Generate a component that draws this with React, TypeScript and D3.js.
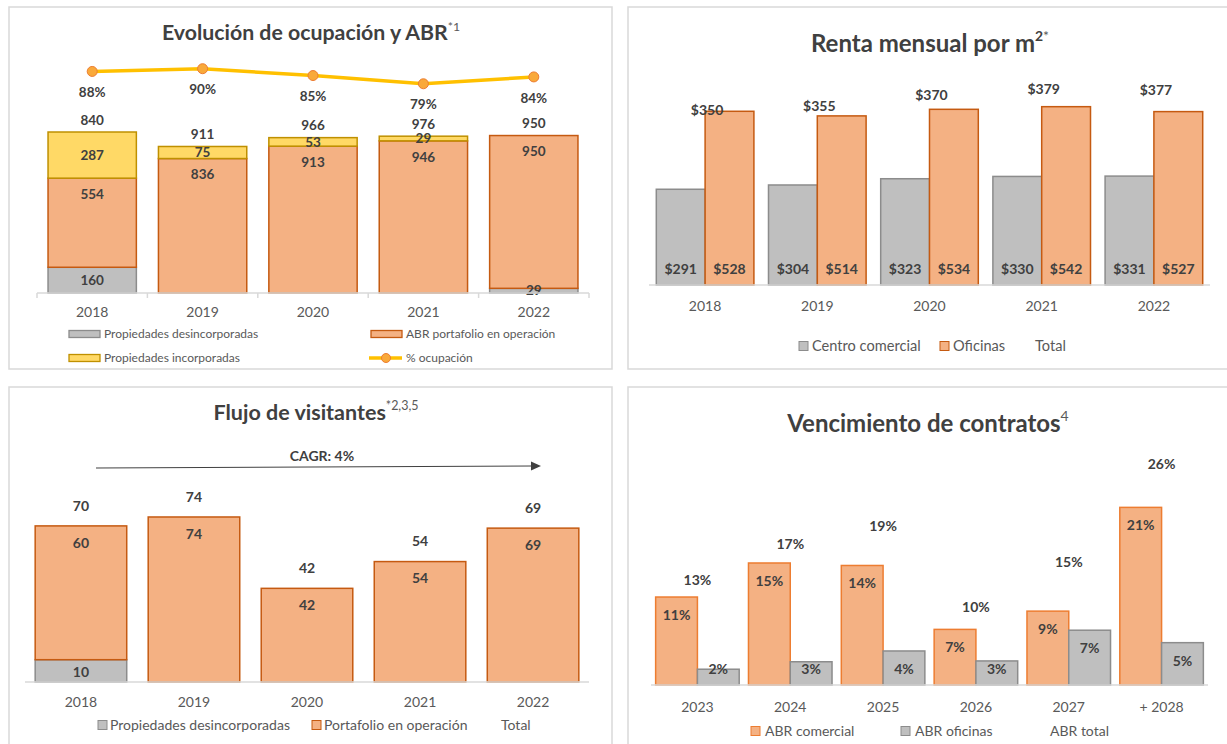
import React, { useEffect, useRef } from 'react';
import * as d3 from 'd3';

// Evolución de ocupación y ABR
const years = ['2018', '2019', '2020', '2021', '2022'];
const abrDesincorporadas = [160, 0, 0, 0, 29];
const abrOperacion = [554, 836, 913, 946, 950];
const abrIncorporadas = [287, 75, 53, 29, 0];
const abrTotal = [840, 911, 966, 976, 950];
const ocupacion = [88, 90, 85, 79, 84];

// Renta mensual por m2
const rentaComercial = [291, 304, 323, 330, 331];
const rentaOficinas = [528, 514, 534, 542, 527];
const rentaTotal = [350, 355, 370, 379, 377];

// Flujo de visitantes
const visitDesincorporadas = [10, 0, 0, 0, 0];
const visitOperacion = [60, 74, 42, 54, 69];
const visitTotal = [70, 74, 42, 54, 69];

// Vencimiento de contratos
const vencYears = ['2023', '2024', '2025', '2026', '2027', '+ 2028'];
const vencComercial = [10.6, 14.7, 14.4, 6.7, 8.9, 21.4];
const vencOficinas = [1.9, 2.8, 4.1, 2.9, 6.6, 5.1];
const vencTotal = [13, 17, 19, 10, 15, 26];

const FONT = 'Lato, "Open Sans", sans-serif';
const DARK = '#404040';
const MID = '#595959';
const GRID = '#D9D9D9';
const ORANGE = '#F4B183';
const ORANGE_LINE = '#C55A11';
const GRAY = '#BFBFBF';
const GRAY_LINE = '#8C8C8C';
const YELLOW = '#FFD966';
const YELLOW_LINE = '#BF9000';

type Sel = d3.Selection<SVGGElement, unknown, null, undefined>;

// title with superscript parts: [text, bold?]
const title = (g: Sel, x: number, y: number, size: number, main: string, sups: [string, boolean][]) => {
  const t = g.append('text')
    .attr('x', x).attr('y', y)
    .attr('text-anchor', 'middle')
    .attr('font-family', FONT)
    .attr('font-size', size)
    .attr('font-weight', 700)
    .attr('fill', DARK)
    .text(main);
  sups.forEach(([s, bold], i) => {
    t.append('tspan')
      .attr('dy', i === 0 ? -size * 0.42 : 0)
      .attr('font-size', size * 0.58)
      .attr('font-weight', bold ? 700 : 400)
      .attr('fill', bold ? DARK : MID)
      .text(s);
  });
};

const label = (g: Sel, x: number, y: number, txt: string, size = 13.5, weight = 700, color = DARK) => {
  g.append('text')
    .attr('x', x).attr('y', y)
    .attr('dy', '0.35em')
    .attr('text-anchor', 'middle')
    .attr('font-family', FONT)
    .attr('font-size', size)
    .attr('font-weight', weight)
    .attr('fill', color)
    .text(txt);
};

const legendText = (g: Sel, x: number, y: number, txt: string, size: number) => {
  g.append('text')
    .attr('x', x).attr('y', y)
    .attr('dy', '0.35em')
    .attr('font-family', FONT)
    .attr('font-size', size)
    .attr('fill', MID)
    .text(txt);
};

const App = () => {
  const ref = useRef<SVGSVGElement>(null);

  useEffect(() => {
    const svg = d3.select(ref.current);
    svg.selectAll('*').remove();

    // panel frames
    const frames = [[9, 7, 603, 362], [628, 7, 610, 362], [9, 387, 603, 370], [628, 387, 610, 370]];
    svg.selectAll('rect.frame')
      .data(frames)
      .enter()
      .append('rect')
      .attr('x', d => d[0]).attr('y', d => d[1])
      .attr('width', d => d[2]).attr('height', d => d[3])
      .attr('fill', '#fff')
      .attr('stroke', GRID)
      .attr('stroke-width', 1.5);

    // ---------- Panel 1: Evolución de ocupación y ABR ----------
    const p1 = svg.append('g') as unknown as Sel;
    title(p1, 311, 39.5, 21.3, 'Evolución de ocupación y ABR', [['*1', false]]);

    const x1 = d3.scaleBand().domain(years).range([37, 589]).paddingInner(0.2).paddingOuter(0.1);
    const y1 = d3.scaleLinear().domain([0, 1200]).range([293, 100]);
    const y1b = d3.scaleLinear().domain([0, 100]).range([192, 55]);

    years.forEach((yr, i) => {
      const x0 = x1(yr)!;
      const w = x1.bandwidth();
      const cx = x0 + w / 2;
      const s0 = 0;
      const s1 = abrDesincorporadas[i];
      const s2 = s1 + abrOperacion[i];
      const s3 = s2 + abrIncorporadas[i];
      const segs = [
        { a: s0, b: s1, fill: GRAY, stroke: GRAY_LINE, v: abrDesincorporadas[i] },
        { a: s1, b: s2, fill: ORANGE, stroke: ORANGE_LINE, v: abrOperacion[i] },
        { a: s2, b: s3, fill: YELLOW, stroke: YELLOW_LINE, v: abrIncorporadas[i] },
      ];
      segs.forEach(s => {
        if (s.v <= 0) return;
        p1.append('rect')
          .attr('x', x0).attr('y', y1(s.b))
          .attr('width', w).attr('height', y1(s.a) - y1(s.b))
          .attr('fill', s.fill).attr('stroke', s.stroke).attr('stroke-width', 1.5);
      });
      if (abrDesincorporadas[i] > 0) label(p1, cx, (y1(s0) + y1(s1)) / 2, String(abrDesincorporadas[i]));
      label(p1, cx, y1(s2) + 16, String(abrOperacion[i]));
      if (abrIncorporadas[i] > 0) label(p1, cx, (y1(s2) + y1(s3)) / 2, String(abrIncorporadas[i]));
      label(p1, cx, y1(s3) - 12, String(abrTotal[i]));
    });

    // axis
    p1.append('line').attr('x1', 37).attr('x2', 589).attr('y1', 293).attr('y2', 293)
      .attr('stroke', GRID).attr('stroke-width', 1.5);
    const step1 = x1.step();
    d3.range(6).forEach(k => {
      const xx = 37 + k * step1;
      p1.append('line').attr('x1', xx).attr('x2', xx).attr('y1', 293).attr('y2', 298)
        .attr('stroke', GRID).attr('stroke-width', 1.5);
    });
    years.forEach(yr => label(p1, x1(yr)! + x1.bandwidth() / 2, 312, yr, 14, 400, MID));

    // ocupación line
    const line1 = d3.line<number>()
      .x((_, i) => x1(years[i])! + x1.bandwidth() / 2)
      .y(d => y1b(d));
    p1.append('path').datum(ocupacion).attr('d', line1)
      .attr('fill', 'none').attr('stroke', '#FFC000').attr('stroke-width', 3.5);
    ocupacion.forEach((v, i) => {
      const cx = x1(years[i])! + x1.bandwidth() / 2;
      p1.append('circle').attr('cx', cx).attr('cy', y1b(v)).attr('r', 5)
        .attr('fill', '#F9A93A').attr('stroke', '#ED7D31').attr('stroke-width', 1);
      label(p1, cx, y1b(v) + 21, `${v}%`);
    });

    // legend
    const lg1 = [
      { x: 69, y: 334, fill: GRAY, stroke: GRAY_LINE, t: 'Propiedades desincorporadas' },
      { x: 371, y: 334, fill: ORANGE, stroke: ORANGE_LINE, t: 'ABR portafolio en operación' },
      { x: 69, y: 358, fill: YELLOW, stroke: YELLOW_LINE, t: 'Propiedades incorporadas' },
    ];
    lg1.forEach(l => {
      p1.append('rect').attr('x', l.x).attr('y', l.y - 3.5).attr('width', 31).attr('height', 7)
        .attr('fill', l.fill).attr('stroke', l.stroke).attr('stroke-width', 1.3);
      legendText(p1, l.x + 35, l.y, l.t, 12);
    });
    p1.append('line').attr('x1', 369).attr('x2', 402).attr('y1', 358).attr('y2', 358)
      .attr('stroke', '#FFC000').attr('stroke-width', 3.5);
    p1.append('circle').attr('cx', 386).attr('cy', 358).attr('r', 4.5)
      .attr('fill', '#F9A93A').attr('stroke', '#ED7D31').attr('stroke-width', 1);
    legendText(p1, 406, 358, '% ocupación', 12);

    // ---------- Panel 2: Renta mensual ----------
    const p2 = svg.append('g') as unknown as Sel;
    title(p2, 930, 51.5, 24, 'Renta mensual por m', [['2', true], ['*', false]]);

    const x2 = d3.scaleBand().domain(years).range([649, 1210]).paddingInner(0.13).paddingOuter(0.065);
    const x2s = d3.scaleBand().domain(['c', 'o']).range([0, x2.bandwidth()]);
    const y2 = d3.scaleLinear().domain([0, 600]).range([285, 87.6]);
    const y2t = d3.scaleLinear().domain([0, 400]).range([363.4, 73.8]);

    years.forEach((yr, i) => {
      const x0 = x2(yr)!;
      [
        { k: 'c', v: rentaComercial[i], fill: GRAY, stroke: GRAY_LINE },
        { k: 'o', v: rentaOficinas[i], fill: ORANGE, stroke: ORANGE_LINE },
      ].forEach(b => {
        const bx = x0 + x2s(b.k)!;
        p2.append('rect')
          .attr('x', bx).attr('y', y2(b.v))
          .attr('width', x2s.bandwidth()).attr('height', y2(0) - y2(b.v))
          .attr('fill', b.fill).attr('stroke', b.stroke).attr('stroke-width', 1.5);
        label(p2, bx + x2s.bandwidth() / 2, y2(0) - 16, `$${b.v}`, 14);
      });
      label(p2, x0 + x2.bandwidth() / 2 + 2, y2t(rentaTotal[i]), `$${rentaTotal[i]}`, 14);
      label(p2, x0 + x2.bandwidth() / 2, 306, yr, 14, 400, MID);
    });
    p2.append('line').attr('x1', 649).attr('x2', 1210).attr('y1', 285).attr('y2', 285)
      .attr('stroke', GRID).attr('stroke-width', 1.5);

    p2.append('rect').attr('x', 799).attr('y', 341.5).attr('width', 9).attr('height', 9)
      .attr('fill', GRAY).attr('stroke', GRAY_LINE);
    legendText(p2, 812, 346, 'Centro comercial', 14.6);
    p2.append('rect').attr('x', 940).attr('y', 341.5).attr('width', 9).attr('height', 9)
      .attr('fill', ORANGE).attr('stroke', ORANGE_LINE);
    legendText(p2, 953, 346, 'Oficinas', 14.6);
    legendText(p2, 1035, 346, 'Total', 14.6);

    // ---------- Panel 3: Flujo de visitantes ----------
    const p3 = svg.append('g') as unknown as Sel;
    title(p3, 316, 419.5, 21.5, 'Flujo de visitantes', [['*2,3,5', false]]);

    const x3 = d3.scaleBand().domain(years).range([25, 589]).paddingInner(0.19).paddingOuter(0.09);
    const y3 = d3.scaleLinear().domain([0, 80]).range([682, 503.6]);

    years.forEach((yr, i) => {
      const x0 = x3(yr)!;
      const w = x3.bandwidth();
      const cx = x0 + w / 2;
      const g = visitDesincorporadas[i];
      const o = visitOperacion[i];
      if (g > 0) {
        p3.append('rect').attr('x', x0).attr('y', y3(g)).attr('width', w).attr('height', y3(0) - y3(g))
          .attr('fill', GRAY).attr('stroke', GRAY_LINE).attr('stroke-width', 1.5);
        label(p3, cx, (y3(0) + y3(g)) / 2 + 1, String(g), 14);
      }
      p3.append('rect').attr('x', x0).attr('y', y3(g + o)).attr('width', w).attr('height', y3(g) - y3(g + o))
        .attr('fill', ORANGE).attr('stroke', ORANGE_LINE).attr('stroke-width', 1.5);
      label(p3, cx, y3(g + o) + 17, String(o), 14);
      label(p3, cx, y3(visitTotal[i]) - 20, String(visitTotal[i]), 14);
      label(p3, cx, 702, yr, 14, 400, MID);
    });
    p3.append('line').attr('x1', 25).attr('x2', 589).attr('y1', 682).attr('y2', 682)
      .attr('stroke', GRID).attr('stroke-width', 1.5);

    // CAGR arrow
    p3.append('line').attr('x1', 96).attr('y1', 468).attr('x2', 532).attr('y2', 466)
      .attr('stroke', DARK).attr('stroke-width', 1);
    p3.append('path').attr('d', 'M531,461.5 L541,466 L531,470.5 Z').attr('fill', DARK);
    label(p3, 322, 456, 'CAGR: 4%', 14);

    p3.append('rect').attr('x', 98).attr('y', 720.5).attr('width', 9).attr('height', 9)
      .attr('fill', GRAY).attr('stroke', GRAY_LINE);
    legendText(p3, 110, 725, 'Propiedades desincorporadas', 14);
    p3.append('rect').attr('x', 312).attr('y', 720.5).attr('width', 9).attr('height', 9)
      .attr('fill', ORANGE).attr('stroke', ORANGE_LINE);
    legendText(p3, 324, 725, 'Portafolio en operación', 14);
    legendText(p3, 501, 725, 'Total', 14);

    // ---------- Panel 4: Vencimiento de contratos ----------
    const p4 = svg.append('g') as unknown as Sel;
    title(p4, 928, 431.5, 24, 'Vencimiento de contratos', [['4', false]]);

    const x4 = d3.scaleBand().domain(vencYears).range([651, 1208]).paddingInner(0.1).paddingOuter(0.05);
    const x4s = d3.scaleBand().domain(['c', 'o']).range([0, x4.bandwidth()]);
    const y4 = d3.scaleLinear().domain([0, 30]).range([685, 436]);
    const y4t = d3.scaleLinear().domain([0, 30]).range([696.4, 428.2]);

    vencYears.forEach((yr, i) => {
      const x0 = x4(yr)!;
      [
        { k: 'c', v: vencComercial[i], fill: ORANGE, stroke: '#ED7D31' },
        { k: 'o', v: vencOficinas[i], fill: GRAY, stroke: GRAY_LINE },
      ].forEach(b => {
        const bx = x0 + x4s(b.k)!;
        p4.append('rect')
          .attr('x', bx).attr('y', y4(b.v))
          .attr('width', x4s.bandwidth()).attr('height', y4(0) - y4(b.v))
          .attr('fill', b.fill).attr('stroke', b.stroke).attr('stroke-width', 1.5);
        label(p4, bx + x4s.bandwidth() / 2, Math.min(y4(b.v) + 18, y4(0) - 16), `${Math.round(b.v)}%`, 14);
      });
      label(p4, x0 + x4.bandwidth() / 2, y4t(vencTotal[i]), `${vencTotal[i]}%`, 14);
      label(p4, x0 + x4.bandwidth() / 2, 707, yr, 14, 400, MID);
    });
    p4.append('line').attr('x1', 651).attr('x2', 1208).attr('y1', 685).attr('y2', 685)
      .attr('stroke', GRID).attr('stroke-width', 1.5);

    p4.append('rect').attr('x', 751).attr('y', 726.5).attr('width', 9).attr('height', 9)
      .attr('fill', ORANGE).attr('stroke', '#ED7D31');
    legendText(p4, 765, 731, 'ABR comercial', 14);
    p4.append('rect').attr('x', 901).attr('y', 726.5).attr('width', 9).attr('height', 9)
      .attr('fill', GRAY).attr('stroke', GRAY_LINE);
    legendText(p4, 915, 731, 'ABR oficinas', 14);
    legendText(p4, 1050, 731, 'ABR total', 14);
  }, []);

  return (
    <svg ref={ref} width={1227} height={744}
      style={{ position: 'absolute', left: 0, top: 0, background: '#fff' }} />
  );
};

export default App;
